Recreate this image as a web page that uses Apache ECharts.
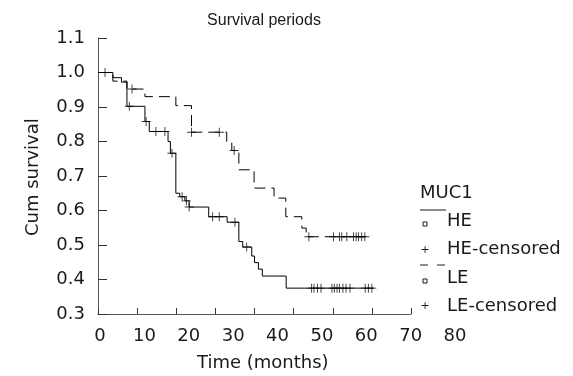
<!DOCTYPE html>
<html>
<head>
<meta charset="utf-8">
<script src="https://cdn.jsdelivr.net/npm/echarts@6/dist/echarts.min.js"></script>
<style>
  html, body { margin: 0; padding: 0; background: #fff; }
  #chart { width: 573px; height: 376px; }
</style>
</head>
<body>
<div id="chart"></div>
<script>
// Kaplan-Meier steps (time in months, cum survival after the drop)
const heTimes = [0, 3.8, 6, 7.4, 12, 13.1, 17.9, 18.5, 19.9, 20.9, 22.2, 23.3, 28.3, 33, 36, 37, 39.3, 40, 41, 42, 48.1, 70.6];
const heSurv = [1.0, 0.985, 0.972, 0.902, 0.858, 0.829, 0.80, 0.766, 0.65, 0.64, 0.628, 0.61, 0.582, 0.566, 0.51, 0.494, 0.468, 0.449, 0.43, 0.41, 0.375, 0.375];
const heCensTimes = [1.8, 8.0, 12.3, 14.8, 17.1, 18.9, 21.5, 22.6, 23.3, 29.3, 31, 35, 38,
  54.6, 55.2, 56.1, 57, 59.8, 60.4, 61.1, 61.7, 62.6, 63.4, 64.4, 68.3, 69.1, 70];
const heCensSurv = [1.0, 0.902, 0.858, 0.829, 0.829, 0.766, 0.64, 0.628, 0.61, 0.582, 0.582, 0.566, 0.494,
  0.375, 0.375, 0.375, 0.375, 0.375, 0.375, 0.375, 0.375, 0.375, 0.375, 0.375, 0.375, 0.375, 0.375];

const leTimes = [0, 3.8, 7.4, 12, 19.9, 23.9, 32.9, 34.2, 36, 39.9, 45, 48, 52.1, 53.2, 68.3];
const leSurv = [1.0, 0.975, 0.952, 0.93, 0.904, 0.827, 0.80, 0.774, 0.718, 0.665, 0.636, 0.582, 0.549, 0.524, 0.524];
const leCensTimes = [8.7, 23.9, 31, 34.8, 53.9, 60.2, 61.7, 62.3, 63.6, 65.3, 66, 66.6, 67.4, 68.2];
const leCensSurv = [0.952, 0.827, 0.827, 0.774, 0.524, 0.524, 0.524, 0.524, 0.524, 0.524, 0.524, 0.524, 0.524, 0.524];

const xTicks = [0, 80, 10];
const yTicks = [0.3, 1.1, 0.1];

const FONT = "DejaVu Sans";
const INK = "#1a1a1a";
const plusPath = "path://M0,4.5H10V5.5H0Z M4.5,0H5.5V10H4.5Z";

const pairs = (xs, ys) => xs.map((x, i) => [x, ys[i]]);

const chart = echarts.init(document.getElementById("chart"));
chart.setOption({
  backgroundColor: "#fff",
  animation: false,
  grid: [
    { left: 98, right: 162, top: 38, bottom: 62 },
    { left: 100, right: 118, top: 38, bottom: 62 },
  ],
  xAxis: [
    {
      gridIndex: 0, type: "value", min: xTicks[0], max: xTicks[1], interval: xTicks[2],
      axisLine: { lineStyle: { color: "#555", width: 1 } },
      axisTick: { inside: true, length: 6, lineStyle: { color: "#333" } },
      axisLabel: { show: false },
      splitLine: { show: false },
    },
    {
      gridIndex: 1, type: "value", min: xTicks[0], max: xTicks[1], interval: xTicks[2],
      axisLine: { show: false },
      axisTick: { show: false },
      axisLabel: { color: INK, fontFamily: FONT, fontSize: 18, margin: 13 },
      splitLine: { show: false },
    },
  ],
  yAxis: [
    {
      gridIndex: 0, type: "value", min: yTicks[0], max: yTicks[1], interval: yTicks[2],
      axisLine: { show: true, lineStyle: { color: "#555", width: 1 } },
      axisTick: { show: true, inside: true, length: 9, lineStyle: { color: "#333" } },
      axisLabel: {
        color: INK, fontFamily: FONT, fontSize: 18, margin: 13,
        formatter: (v) => v.toFixed(1),
      },
      splitLine: { show: false },
    },
    { gridIndex: 1, type: "value", min: 0, max: 1, show: false },
  ],
  graphic: [
    { type: "text", x: 264, y: 21, style: { text: "Survival periods", font: '16px "Liberation Sans"', fill: INK, align: "center", verticalAlign: "middle" } },
    { type: "text", x: 24, y: 236, rotation: Math.PI / 2, style: { text: "Cum survival", font: `18px "${FONT}"`, fill: INK } },
    { type: "text", x: 197, y: 354, style: { text: "Time (months)", font: `18px "${FONT}"`, fill: INK } },
    // legend
    { type: "text", x: 420, y: 184, style: { text: "MUC1", font: `18px "${FONT}"`, fill: INK } },
    { type: "line", shape: { x1: 420, y1: 210, x2: 446, y2: 210 }, style: { stroke: INK, lineWidth: 1 } },
    { type: "rect", shape: { x: 423, y: 222, width: 4, height: 4 }, style: { fill: "none", stroke: INK, lineWidth: 1 } },
    { type: "text", x: 447, y: 212, style: { text: "HE", font: `18px "${FONT}"`, fill: INK } },
    { type: "text", x: 425, y: 250, style: { text: "+", font: `11px "${FONT}"`, fill: INK, align: "center", verticalAlign: "middle" } },
    { type: "text", x: 447, y: 240, style: { text: "HE-censored", font: `18px "${FONT}"`, fill: INK } },
    { type: "line", shape: { x1: 420, y1: 265, x2: 446, y2: 265 }, style: { stroke: INK, lineWidth: 1, lineDash: [8, 9] } },
    { type: "rect", shape: { x: 423, y: 279, width: 4, height: 4 }, style: { fill: "none", stroke: INK, lineWidth: 1 } },
    { type: "text", x: 447, y: 269, style: { text: "LE", font: `18px "${FONT}"`, fill: INK } },
    { type: "text", x: 425, y: 306, style: { text: "+", font: `11px "${FONT}"`, fill: INK, align: "center", verticalAlign: "middle" } },
    { type: "text", x: 447, y: 297, style: { text: "LE-censored", font: `18px "${FONT}"`, fill: INK } },
  ],
  series: [
    {
      name: "HE", type: "line", step: "end", xAxisIndex: 0, yAxisIndex: 0,
      showSymbol: false, lineStyle: { color: "#000", width: 1 },
      data: pairs(heTimes, heSurv),
    },
    {
      name: "LE", type: "line", step: "end", xAxisIndex: 0, yAxisIndex: 0,
      showSymbol: false, lineStyle: { color: "#000", width: 1, type: [11, 6] },
      data: pairs(leTimes, leSurv),
    },
    {
      name: "HE-censored", type: "scatter", xAxisIndex: 0, yAxisIndex: 0,
      symbol: plusPath, symbolSize: 9, itemStyle: { color: "#000" },
      data: pairs(heCensTimes, heCensSurv),
    },
    {
      name: "LE-censored", type: "scatter", xAxisIndex: 0, yAxisIndex: 0,
      symbol: plusPath, symbolSize: 9, itemStyle: { color: "#000" },
      data: pairs(leCensTimes, leCensSurv),
    },
  ],
});
</script>
</body>
</html>
